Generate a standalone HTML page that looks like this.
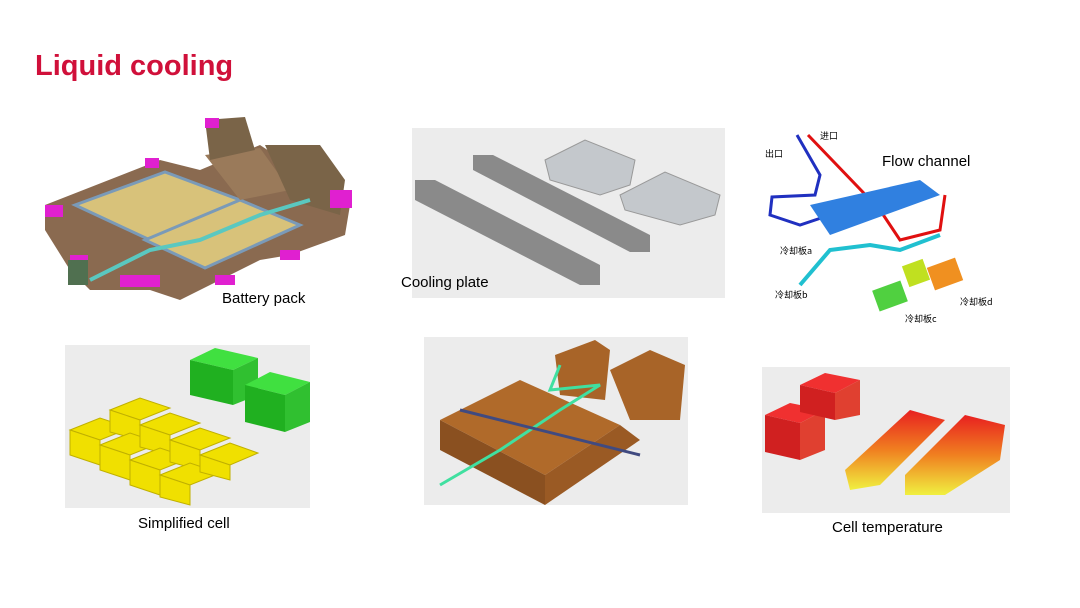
<!DOCTYPE html>
<html><head><meta charset="utf-8"><style>
body{margin:0;width:1080px;height:608px;background:#fff;overflow:hidden;font-family:"Liberation Sans",sans-serif;position:relative}
.t{position:absolute;font-size:15px;color:#000}
</style></head><body>
<div style="position:absolute;left:35px;top:50px;font-size:29px;font-weight:bold;color:#d0103a">Liquid cooling</div>
<svg width="1080" height="608" style="position:absolute;left:0;top:0">
<!-- battery pack -->
<g>
<polygon points="45,205 160,160 200,170 260,145 350,205 345,235 290,255 260,260 180,300 150,290 90,290 70,270 45,230" fill="#8a6a50"/>
<polygon points="75,205 165,172 240,200 150,240" fill="#d8c27a" stroke="#7a9ab8" stroke-width="3"/>
<polygon points="145,240 240,200 300,225 205,268" fill="#d8c27a" stroke="#7a9ab8" stroke-width="3"/>
<polygon points="205,155 260,148 290,190 240,200" fill="#9a7a5a"/>
<polygon points="205,120 245,117 255,150 210,160" fill="#7a6448"/>
<polygon points="265,145 320,145 345,180 340,215 290,200" fill="#7a6448"/>
<polyline points="90,280 150,250 200,240 260,215 310,200" fill="none" stroke="#5ac8c0" stroke-width="4"/>
<rect x="45" y="205" width="18" height="12" fill="#e020d0"/><rect x="70" y="255" width="18" height="12" fill="#e020d0"/>
<rect x="145" y="158" width="14" height="10" fill="#e020d0"/><rect x="330" y="190" width="22" height="18" fill="#e020d0"/>
<rect x="120" y="275" width="40" height="12" fill="#e020d0"/><rect x="215" y="275" width="20" height="10" fill="#e020d0"/>
<rect x="280" y="250" width="20" height="10" fill="#e020d0"/><rect x="205" y="118" width="14" height="10" fill="#e020d0"/>
<rect x="68" y="260" width="20" height="25" fill="#507050"/>
</g>
<!-- cooling plate -->
<rect x="412" y="128" width="313" height="170" fill="#ececec"/>
<polygon points="415,180 435,180 600,265 600,285 580,285 415,200" fill="#8a8a8a"/>
<polygon points="473,155 493,155 650,235 650,252 630,252 473,170" fill="#8a8a8a"/>
<polygon points="545,160 585,140 635,160 630,185 600,195 550,180" fill="#c4c8cc" stroke="#999"/>
<polygon points="620,195 665,172 720,195 715,215 680,225 625,210" fill="#c4c8cc" stroke="#999"/>
<!-- flow channel -->
<polyline points="797,135 820,175 815,195 772,197 770,215 800,225 830,215" fill="none" stroke="#2030c0" stroke-width="3"/>
<polyline points="808,135 880,210 900,240 940,230 945,195" fill="none" stroke="#e01010" stroke-width="3"/>
<polygon points="810,205 920,180 940,195 830,235" fill="#3080e0"/>
<polyline points="800,285 830,250 870,245 900,250 940,235" fill="none" stroke="#20c0d0" stroke-width="4"/>
<rect x="875" y="285" width="30" height="22" fill="#50d040" transform="rotate(-20 890 296)"/>
<rect x="905" y="262" width="22" height="22" fill="#c0e020" transform="rotate(-20 916 273)"/>
<rect x="930" y="262" width="30" height="24" fill="#f09020" transform="rotate(-20 945 274)"/>
<g font-family="Noto Sans CJK SC,sans-serif" font-size="9">
<text x="765" y="157">出口</text><text x="820" y="139">进口</text><text x="780" y="254">冷却板a</text><text x="775" y="298">冷却板b</text><text x="905" y="322">冷却板c</text><text x="960" y="305">冷却板d</text></g>
<!-- simplified cell -->
<rect x="65" y="345" width="245" height="163" fill="#ececec"/>
<polygon points="190,360 215,348 258,358 233,370" fill="#40e040"/><polygon points="190,360 233,370 233,405 190,395" fill="#20b020"/><polygon points="233,370 258,358 258,395 233,405" fill="#30c030"/>
<polygon points="245,385 270,372 310,382 285,395" fill="#40e040"/><polygon points="245,385 285,395 285,432 245,422" fill="#20b020"/><polygon points="285,395 310,382 310,422 285,432" fill="#30c030"/>
<g fill="#f0e000" stroke="#c0b000">
<polygon points="70,430 100,418 130,428 100,440"/><polygon points="70,430 100,440 100,465 70,455"/>
<polygon points="110,410 140,398 170,408 140,420"/><polygon points="110,410 140,420 140,440 110,432"/>
<polygon points="100,445 130,433 160,443 130,455"/><polygon points="100,445 130,455 130,480 100,470"/>
<polygon points="140,425 170,413 200,423 170,435"/><polygon points="140,425 170,435 170,455 140,447"/>
<polygon points="130,460 160,448 190,458 160,470"/><polygon points="130,460 160,470 160,495 130,485"/>
<polygon points="170,440 200,428 230,438 200,450"/><polygon points="170,440 200,450 200,470 170,462"/>
<polygon points="160,475 190,463 220,473 190,485"/><polygon points="160,475 190,485 190,505 160,497"/>
<polygon points="200,455 230,443 258,453 230,465"/><polygon points="200,455 230,465 230,480 200,472"/>
</g>
<!-- cooling structure -->
<rect x="424" y="337" width="264" height="168" fill="#ececec"/>
<polygon points="440,420 520,380 620,425 545,475" fill="#b06a2a"/>
<polygon points="440,420 545,475 545,505 440,450" fill="#8a5020"/>
<polygon points="545,475 620,425 640,440 545,505" fill="#9a5a24"/>
<polygon points="555,355 595,340 610,350 605,400 560,395" fill="#a86428"/>
<polygon points="610,370 650,350 685,365 680,420 630,420" fill="#a86428"/>
<polyline points="440,485 500,450 560,410 600,385 550,390 560,365" fill="none" stroke="#40e0a0" stroke-width="3"/>
<polyline points="460,410 640,455" fill="none" stroke="#404a80" stroke-width="3"/>
<!-- temperature -->
<rect x="762" y="367" width="248" height="146" fill="#ececec"/>
<polygon points="765,415 790,403 825,410 800,423" fill="#f03030"/><polygon points="765,415 800,423 800,460 765,452" fill="#d02020"/><polygon points="800,423 825,410 825,450 800,460" fill="#e04030"/>
<polygon points="800,385 825,373 860,380 835,393" fill="#f03030"/><polygon points="800,385 835,393 835,420 800,412" fill="#d02020"/><polygon points="835,393 860,380 860,415 835,420" fill="#e04030"/>
<defs><linearGradient id="hg" x1="0" y1="1" x2="0" y2="0"><stop offset="0" stop-color="#f0f040"/><stop offset="0.5" stop-color="#f08020"/><stop offset="1" stop-color="#e82020"/></linearGradient></defs>
<polygon points="845,470 910,410 945,420 880,485 850,490" fill="url(#hg)"/>
<polygon points="905,475 965,415 1005,425 1000,460 945,495 905,495" fill="url(#hg)"/>
</svg>
<div class="t" style="left:222px;top:290px">Battery pack</div>
<div class="t" style="left:401px;top:274px">Cooling plate</div>
<div class="t" style="left:882px;top:153px">Flow channel</div>
<div class="t" style="left:138px;top:515px">Simplified cell</div>
<div class="t" style="left:832px;top:519px">Cell temperature</div>
</body></html>
